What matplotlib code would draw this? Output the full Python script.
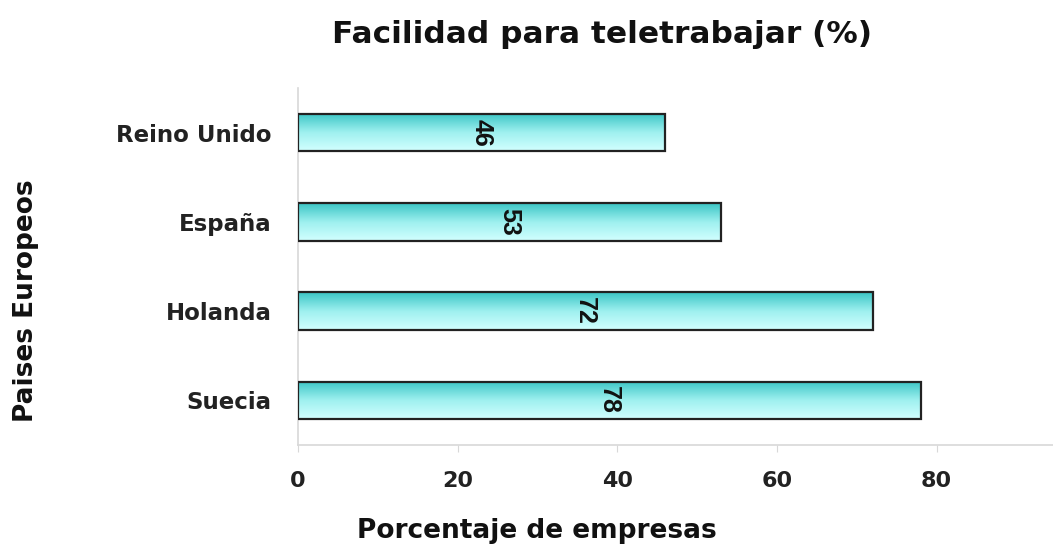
import numpy as np
import matplotlib.pyplot as plt
from matplotlib.colors import LinearSegmentedColormap

paises = ["Suecia", "Holanda", "España", "Reino Unido"]
porcentajes = [78, 72, 53, 46]
xticks = [0, 20, 40, 60, 80]

fig = plt.figure(figsize=(10.53, 5.46), dpi=100)
ax = fig.add_axes([0.283, 0.185, 0.758, 0.654])

ypos = np.arange(len(paises))
bars = ax.barh(ypos, porcentajes, height=0.42, color="none",
               edgecolor="#222222", linewidth=1.6, zorder=3)

# vertical gradient inside each bar (dark teal on top, pale cyan below)
grad = LinearSegmentedColormap.from_list("teal", ["#d2ffff", "#9ef0ef", "#3cc6c6"])
gimg = np.linspace(0, 1, 64).reshape(-1, 1)
for b in bars:
    x0, y0 = b.get_x(), b.get_y()
    w, h = b.get_width(), b.get_height()
    im = ax.imshow(gimg, cmap=grad, aspect="auto", origin="lower",
                   extent=[x0, x0 + w, y0, y0 + h], zorder=2)
    im.set_clip_path(b)
    ax.text(x0 + w / 2, y0 + h / 2, str(int(w)), rotation=-90,
            ha="center", va="center", fontsize=18, fontweight="bold",
            color="#111111", family="Liberation Sans", zorder=4)

ax.set_xlim(0, 100)
ax.set_ylim(-0.5, 3.5)
ax.set_xticks(xticks)
ax.set_yticks(ypos, paises)

for s in ["top", "right"]:
    ax.spines[s].set_visible(False)
for s in ["left", "bottom"]:
    ax.spines[s].set_color("#d8d8d8")
    ax.spines[s].set_linewidth(1.2)

ax.tick_params(axis="x", length=5, color="#d8d8d8", pad=14,
               labelsize=16, labelcolor="#222222")
ax.tick_params(axis="y", length=0, pad=19, labelsize=16.5, labelcolor="#222222")
for lbl in ax.get_xticklabels() + ax.get_yticklabels():
    lbl.set_fontweight("bold")
    lbl.set_family("DejaVu Sans")

fig.text(0.572, 0.936, "Facilidad para teletrabajar (%)", ha="center", va="center",
         fontsize=22.5, fontweight="bold", family="DejaVu Sans", color="#111111")
fig.text(0.51, 0.004, "Porcentaje de empresas", ha="center", va="bottom",
         fontsize=19, fontweight="bold", family="DejaVu Sans", color="#111111")
fig.text(0.025, 0.45, "Paises Europeos", ha="center", va="center", rotation=90,
         fontsize=19, fontweight="bold", family="DejaVu Sans", color="#111111")

fig.savefig("out.png", dpi=100, facecolor="white")
